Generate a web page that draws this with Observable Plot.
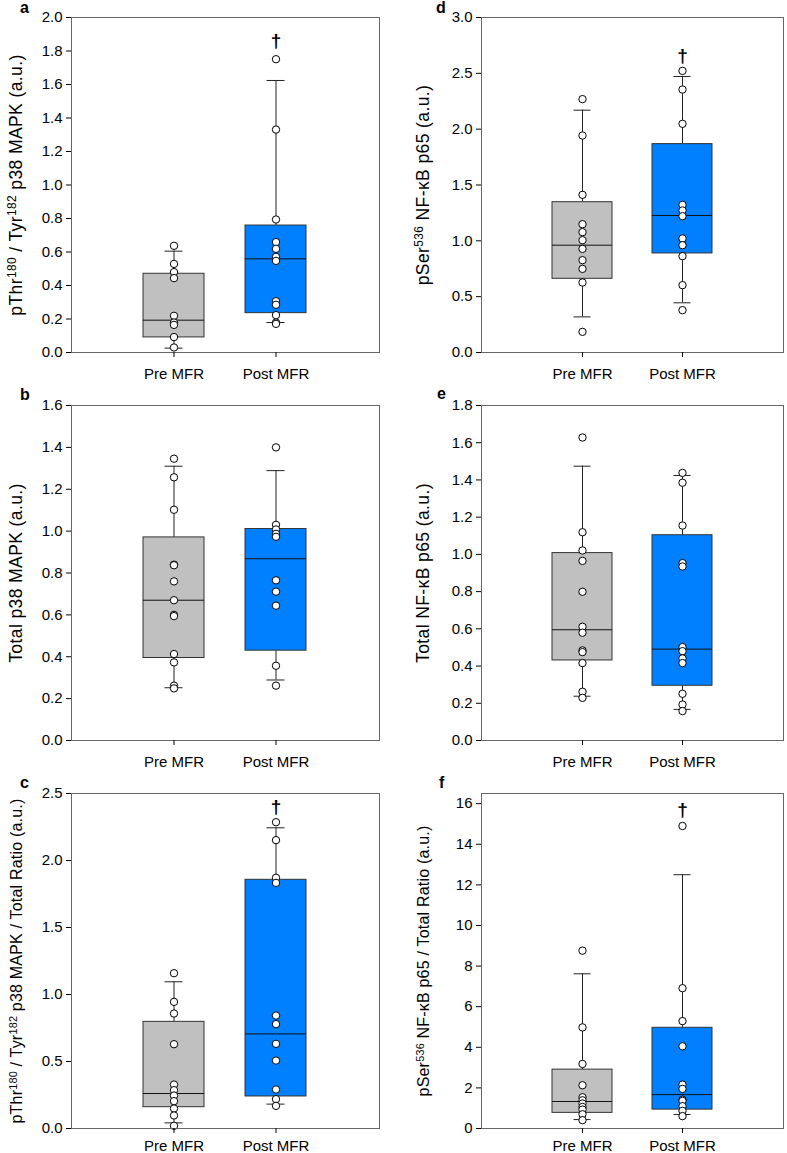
<!DOCTYPE html>
<html><head><meta charset="utf-8">
<script src="https://cdn.jsdelivr.net/npm/d3@7"></script>
<script src="https://cdn.jsdelivr.net/npm/@observablehq/plot@0.6"></script>
<style>
body{margin:0;background:#fff;overflow:hidden}
#wrap{position:relative;width:787px;height:1153px;font-family:Arial,"Liberation Sans",sans-serif;color:#000}
.panel{position:absolute}
.ytitle{position:absolute;transform:translate(-50%,-50%) rotate(-90deg);white-space:nowrap;line-height:1}
.letter{position:absolute;font-weight:bold;font-size:16px;line-height:1}
sup{font-size:0.68em;vertical-align:baseline;position:relative;top:-0.5em}
</style></head><body><div id="wrap"></div>
<script>
const groups = ["Pre MFR", "Post MFR"];
const statKeys = ["lo", "q1", "med", "q3", "hi"];

// Panel a: pThr180/Tyr182 p38 MAPK
const aPre = [0.637, 0.529, 0.480, 0.444, 0.219, 0.179, 0.165, 0.092, 0.030];
const aPost = [1.751, 1.331, 0.794, 0.659, 0.619, 0.571, 0.547, 0.306, 0.285, 0.223, 0.179, 0.171];
const aStatPre = [0.026, 0.090, 0.193, 0.470, 0.605];
const aStatPost = [0.179, 0.235, 0.559, 0.758, 1.624];
const aTicks = [0, 0.2, 0.4, 0.6, 0.8, 1.0, 1.2, 1.4, 1.6, 1.8, 2.0];
const aDomain = [0, 2.0];
const aDagger = 1.86;

// Panel d: pSer536 NF-kB p65
const dPre = [2.269, 1.943, 1.412, 1.149, 1.078, 1.006, 0.928, 0.827, 0.749, 0.627, 0.185];
const dPost = [2.522, 2.355, 2.048, 1.322, 1.272, 1.221, 1.021, 0.961, 0.863, 0.603, 0.379];
const dStatPre = [0.319, 0.660, 0.961, 1.346, 2.170];
const dStatPost = [0.445, 0.887, 1.227, 1.866, 2.472];
const dTicks = [0, 0.5, 1.0, 1.5, 2.0, 2.5, 3.0];
const dDomain = [0, 3.0];
const dDagger = 2.66;

// Panel b: Total p38 MAPK
const bPre = [1.346, 1.257, 1.102, 0.840, 0.837, 0.760, 0.670, 0.600, 0.594, 0.413, 0.373, 0.262, 0.249];
const bPost = [1.400, 1.030, 1.008, 0.987, 0.973, 0.765, 0.711, 0.644, 0.357, 0.262];
const bStatPre = [0.252, 0.394, 0.670, 0.970, 1.310];
const bStatPost = [0.289, 0.429, 0.868, 1.010, 1.289];
const bTicks = [0, 0.2, 0.4, 0.6, 0.8, 1.0, 1.2, 1.4, 1.6];
const bDomain = [0, 1.6];

// Panel e: Total NF-kB p65
const ePre = [1.628, 1.119, 1.021, 0.965, 0.799, 0.611, 0.579, 0.484, 0.475, 0.416, 0.262, 0.229];
const ePost = [1.438, 1.385, 1.155, 0.953, 0.935, 0.502, 0.480, 0.441, 0.416, 0.251, 0.193, 0.158];
const eStatPre = [0.238, 0.430, 0.595, 1.007, 1.474];
const eStatPost = [0.167, 0.294, 0.491, 1.103, 1.424];
const eTicks = [0, 0.2, 0.4, 0.6, 0.8, 1.0, 1.2, 1.4, 1.6, 1.8];
const eDomain = [0, 1.8];

// Panel c: p38 MAPK phospho / total ratio
const cPre = [1.159, 0.945, 0.858, 0.629, 0.328, 0.286, 0.246, 0.204, 0.149, 0.097, 0.020];
const cPost = [2.286, 2.152, 1.871, 1.833, 0.843, 0.779, 0.632, 0.507, 0.291, 0.219, 0.169];
const cStatPre = [0.042, 0.159, 0.261, 0.796, 1.095];
const cStatPost = [0.182, 0.239, 0.706, 1.856, 2.244];
const cTicks = [0, 0.5, 1.0, 1.5, 2.0, 2.5];
const cDomain = [0, 2.5];
const cDagger = 2.40;

// Panel f: NF-kB phospho / total ratio
const fPre = [8.76, 4.98, 3.18, 2.13, 1.54, 1.39, 1.23, 1.06, 0.93, 0.70, 0.41];
const fPost = [14.90, 6.91, 5.29, 4.05, 2.16, 1.95, 1.42, 1.36, 1.10, 0.87, 0.61];
const fStatPre = [0.44, 0.77, 1.33, 2.90, 7.62];
const fStatPost = [0.69, 0.93, 1.67, 4.96, 12.50];
const fTicks = [0, 2, 4, 6, 8, 10, 12, 14, 16];
const fDomain = [0, 16.5];
const fDagger = 15.67;

const panelLetters = ["a", "b", "c", "d", "e", "f"];
const titles = [
  'pThr<sup>180</sup> / Tyr<sup>182</sup> p38 MAPK (a.u.)',
  'Total p38 MAPK (a.u.)',
  'pThr<sup>180</sup> / Tyr<sup>182</sup> p38 MAPK / Total Ratio (a.u.)',
  'pSer<sup>536</sup> NF-κB p65 (a.u.)',
  'Total NF-κB p65 (a.u.)',
  'pSer<sup>536</sup> NF-κB p65 / Total Ratio (a.u.)'
];
const boxColors = {"Pre MFR": "#c0c0c0", "Post MFR": "#0080ff"};

const panels = [
  {pre: aPre, post: aPost, sPre: aStatPre, sPost: aStatPost, ticks: aTicks, domain: aDomain, dagger: aDagger, fmt: d3.format(".1f"), col: 0, row: 0},
  {pre: bPre, post: bPost, sPre: bStatPre, sPost: bStatPost, ticks: bTicks, domain: bDomain, dagger: null, fmt: d3.format(".1f"), col: 0, row: 1},
  {pre: cPre, post: cPost, sPre: cStatPre, sPost: cStatPost, ticks: cTicks, domain: cDomain, dagger: cDagger, fmt: d3.format(".1f"), col: 0, row: 2},
  {pre: dPre, post: dPost, sPre: dStatPre, sPost: dStatPost, ticks: dTicks, domain: dDomain, dagger: dDagger, fmt: d3.format(".1f"), col: 1, row: 0},
  {pre: ePre, post: ePost, sPre: eStatPre, sPost: eStatPost, ticks: eTicks, domain: eDomain, dagger: null, fmt: d3.format(".1f"), col: 1, row: 1},
  {pre: fPre, post: fPost, sPre: fStatPre, sPost: fStatPost, ticks: fTicks, domain: fDomain, dagger: fDagger, fmt: d3.format("d"), col: 1, row: 2}
];

const wrap = document.getElementById("wrap");
const colLeft = [0, 393], colWidth = [393, 394];
const mLeft = [71, 88], mRight = [14, 4];
const rowTop = [0, 388, 776], rowHeight = [388, 388, 377];
const xPad = [11, 11, 7];
const titleX = [17, 424];
const titleSize = [[17.5, 0.4], [17.5, 0.4], [16, 0.2], [17.5, 0.4], [17.5, 0.4], [16, 0.2]];
const letterPos = [[20, 0], [20, 387], [20, 775], [436, 0], [437, 386], [439, 775]];

panels.forEach((p, i) => {
  const stats = groups.map((g, k) => {
    const s = k === 0 ? p.sPre : p.sPost;
    const o = {group: g};
    statKeys.forEach((key, j) => o[key] = s[j]);
    return o;
  });
  const pts = [
    ...p.pre.map(v => ({group: "Pre MFR", v})),
    ...p.post.map(v => ({group: "Post MFR", v}))
  ];
  const marks = [
    Plot.ruleX(stats, {x: "group", y1: "lo", y2: "q1", stroke: "#222", strokeWidth: 1}),
    Plot.ruleX(stats, {x: "group", y1: "q3", y2: "hi", stroke: "#222", strokeWidth: 1}),
    Plot.barY(stats.filter(d => d.group === "Pre MFR"), {x: "group", y1: "q1", y2: "q3", fill: boxColors["Pre MFR"], stroke: "#333", strokeWidth: 1}),
    Plot.barY(stats.filter(d => d.group === "Post MFR"), {x: "group", y1: "q1", y2: "q3", fill: boxColors["Post MFR"], stroke: "#333", strokeWidth: 1}),
    Plot.tickY(stats, {x: "group", y: "med", stroke: "#111", strokeWidth: 1}),
    Plot.tickY(stats, {x: "group", y: "lo", stroke: "#222", insetLeft: 21.5, insetRight: 21.5}),
    Plot.tickY(stats, {x: "group", y: "hi", stroke: "#222", insetLeft: 21.5, insetRight: 21.5}),
    Plot.dot(pts, {x: "group", y: "v", r: 3.7, fill: "white", stroke: "#000", strokeWidth: 1}),
    Plot.frame({stroke: "#666"}),
    Plot.axisY({ticks: p.ticks, tickFormat: p.fmt, tickSize: 5, tickPadding: 4, label: null, fontSize: 15}),
    Plot.axisX({tickSize: 5, tickPadding: xPad[p.row], label: null, fontSize: 15})
  ];
  if (p.dagger != null) {
    marks.push(Plot.text([{group: "Post MFR", v: p.dagger}], {x: "group", y: "v", text: () => "†", fontWeight: "bold", fontSize: 19}));
  }
  const chart = Plot.plot({
    width: colWidth[p.col],
    height: rowHeight[p.row],
    marginLeft: mLeft[p.col],
    marginRight: mRight[p.col],
    marginTop: 17,
    marginBottom: rowHeight[p.row] - 17 - 335,
    x: {type: "band", domain: groups, paddingInner: 0.4, paddingOuter: 0.7},
    y: {domain: p.domain},
    style: {fontFamily: "Arial, 'Liberation Sans', sans-serif", fontSize: "15px", color: "#000", background: "transparent"},
    marks
  });
  const div = document.createElement("div");
  div.className = "panel";
  div.style.left = colLeft[p.col] + "px";
  div.style.top = rowTop[p.row] + "px";
  div.appendChild(chart);
  wrap.appendChild(div);

  const t = document.createElement("div");
  t.className = "ytitle";
  t.innerHTML = titles[i];
  t.style.fontSize = titleSize[i][0] + "px";
  t.style.letterSpacing = titleSize[i][1] + "px";
  t.style.left = titleX[p.col] + "px";
  t.style.top = (rowTop[p.row] + 17 + 335 / 2) + "px";
  wrap.appendChild(t);

  const l = document.createElement("div");
  l.className = "letter";
  l.textContent = panelLetters[i];
  l.style.left = letterPos[i][0] + "px";
  l.style.top = letterPos[i][1] + "px";
  wrap.appendChild(l);
});
</script>
</body></html>
